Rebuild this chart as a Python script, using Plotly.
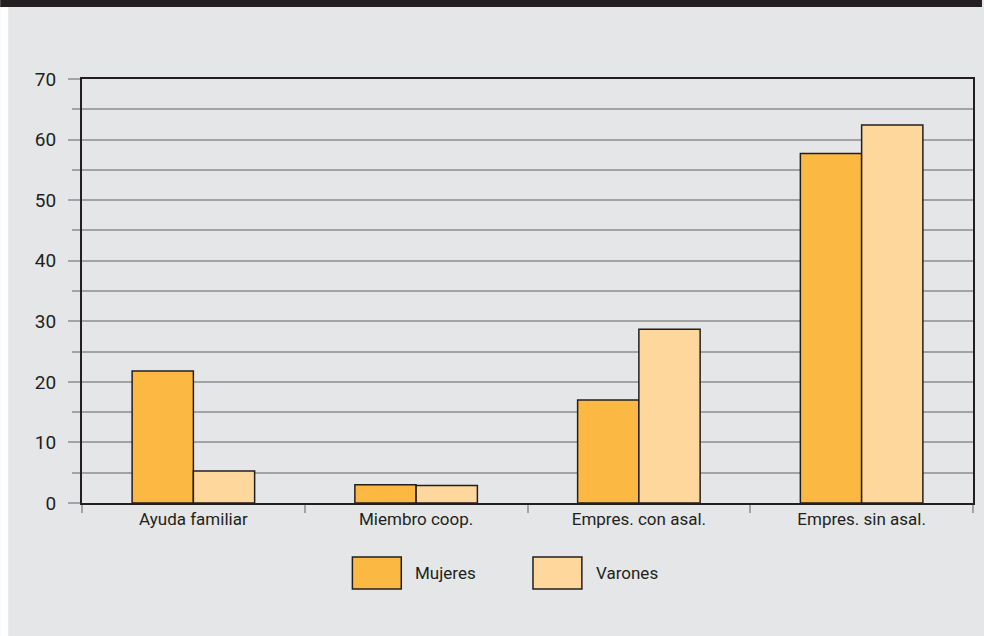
import plotly.graph_objects as go

categories = ["Ayuda familiar", "Miembro coop.", "Empres. con asal.", "Empres. sin asal."]
series_names = ["Mujeres", "Varones"]
mujeres = [21.8, 3.0, 17.0, 57.7]
varones = [5.3, 2.9, 28.7, 62.4]
colors = ["#fbb943", "#fed79c"]
y_tick_vals = [0, 10, 20, 30, 40, 50, 60, 70]

W, H = 984, 636
L, R, T, B = 82, 9, 79, 133
pw, ph = W - L - R, H - T - B

def px(x):
    return (x - L) / pw

def py(y):
    return (H - B - y) / ph

FONT = "Roboto, Liberation Sans Narrow, sans-serif"
DARK = "#231f20"
GRID = "#a3a3a3"

fig = go.Figure()
for name, vals, col in zip(series_names, [mujeres, varones], colors):
    fig.add_trace(go.Bar(x=categories, y=vals, name=name, marker=dict(color=col, line=dict(color=DARK, width=1.5)), showlegend=False))

shapes = [
    dict(type="rect", xref="paper", yref="paper", x0=px(0), x1=px(8), y0=py(H), y1=py(0), fillcolor="white", line=dict(width=0), layer="below"),
    dict(type="rect", xref="paper", yref="paper", x0=px(0), x1=px(W), y0=py(7), y1=py(0), fillcolor=DARK, line=dict(width=0), layer="below"),
]
annotations = []
leg_boxes = [(353, 402), (534, 583)]
for (x0, x1), name, col in zip(leg_boxes, series_names, colors):
    shapes.append(dict(type="rect", xref="paper", yref="paper", x0=px(x0), x1=px(x1), y0=py(589), y1=py(557), fillcolor=col, line=dict(color=DARK, width=1.5)))
    annotations.append(dict(xref="paper", yref="paper", x=px(x1 + 12), y=py(573), text=name, showarrow=False, xanchor="left", yanchor="middle", font=dict(family=FONT, size=17, color=DARK)))

fig.update_layout(
    width=W, height=H,
    margin=dict(l=L, r=R, t=T, b=B, pad=0),
    paper_bgcolor="#e5e6e7",
    plot_bgcolor="#e5e6e7",
    barmode="group", bargap=0.45, bargroupgap=0,
    shapes=shapes, annotations=annotations,
    font=dict(family=FONT, color=DARK),
)
fig.update_xaxes(
    range=[-0.5, 3.5], showline=True, linecolor=DARK, linewidth=2, mirror=True,
    ticks="outside", tickson="boundaries", ticklen=8, tickcolor=GRID, tickwidth=1.5,
    tickfont=dict(family=FONT, size=17, color=DARK), showgrid=False, zeroline=False,
)
fig.update_yaxes(
    range=[0, 70], tickvals=y_tick_vals, showline=True, linecolor=DARK, linewidth=2, mirror=True,
    ticks="outside", ticklen=12, tickcolor=GRID, tickwidth=1.5, ticklabelstandoff=8,
    tickfont=dict(family=FONT, size=19, color=DARK),
    showgrid=True, gridcolor=GRID, gridwidth=1.5, zeroline=False,
    minor=dict(dtick=5, showgrid=True, gridcolor=GRID, gridwidth=1.5, ticks="outside", ticklen=8, tickcolor=GRID, tickwidth=1.5),
)
fig.write_html("out.html", config={"displayModeBar": False}, post_script="document.body.style.margin='0';")
